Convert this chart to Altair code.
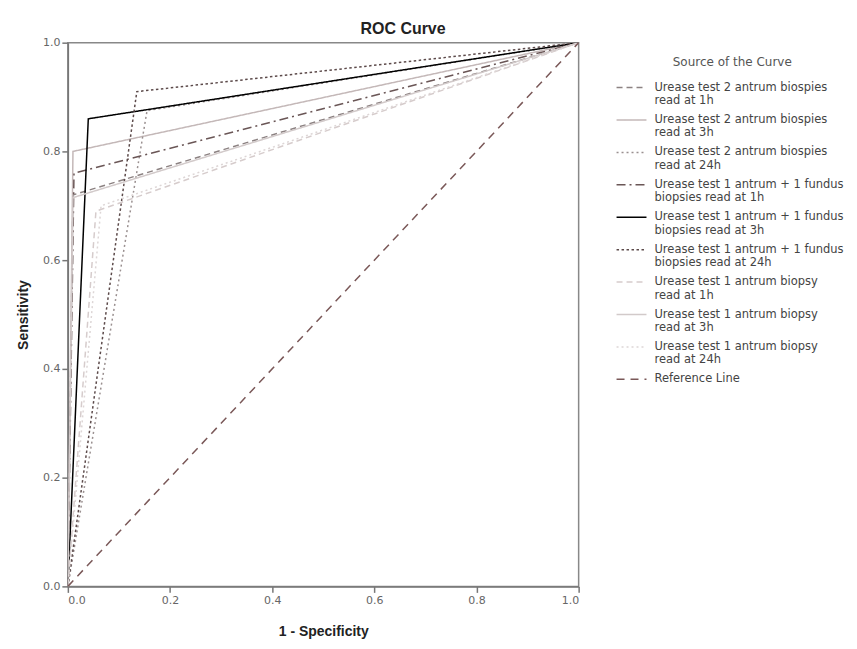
import altair as alt
import pandas as pd

series = [
    "Urease test 2 antrum biospies|read at 1h",
    "Urease test 2 antrum biospies|read at 3h",
    "Urease test 2 antrum biospies|read at 24h",
    "Urease test 1 antrum + 1 fundus|biopsies read at 1h",
    "Urease test 1 antrum + 1 fundus|biopsies read at 3h",
    "Urease test 1 antrum + 1 fundus|biopsies read at 24h",
    "Urease test 1 antrum biopsy|read at 1h",
    "Urease test 1 antrum biopsy|read at 3h",
    "Urease test 1 antrum biopsy|read at 24h",
    "Reference Line",
]
# operating point (1 - specificity, sensitivity) of each test
fpr = [0.010, 0.010, 0.155, 0.012, 0.040, 0.135, 0.055, 0.010, 0.065, None]
tpr = [0.720, 0.800, 0.875, 0.760, 0.860, 0.910, 0.690, 0.715, 0.700, None]

colors = ["#8c8282", "#c4b8b8", "#9a9090", "#6a5656", "#000000",
          "#5c4a4a", "#d6cccc", "#d2caca", "#ddd6d6", "#7a5858"]
dashes = [[6, 4], [1, 0], [2, 3], [9, 4, 2, 4], [1, 0],
          [2.5, 2.5], [6, 4], [1, 0], [2, 3], [8, 6]]
widths = [1.5, 1.5, 2, 2, 2.5, 2.2, 1.5, 1.5, 2, 1.6]

rows = []
for i, s in enumerate(series):
    if fpr[i] is None:
        pts = [(0.0, 0.0), (1.0, 1.0)]
    else:
        pts = [(0.0, 0.0), (fpr[i], tpr[i]), (1.0, 1.0)]
    for k, (x, y) in enumerate(pts):
        rows.append({"series": s, "fpr": x, "tpr": y, "ord": k, "idx": i})
df = pd.DataFrame(rows)

legend = alt.Legend(
    title="Source of the Curve",
    titleFont="DejaVu Sans", titleFontSize=12, titleFontWeight="normal",
    titleColor="#555555", titleAnchor="middle", titlePadding=8,
    labelFont="DejaVu Sans", labelFontSize=11.5, labelColor="#444444",
    labelExpr="split(datum.label, '|')", labelLimit=300,
    symbolType="M-1.5,0H1.5", symbolSize=400, symbolStrokeWidth=1.5,
    rowPadding=2.5, padding=0, labelOffset=12,
    orient="none", legendX=554, legendY=14,
)

base = alt.Chart(df).mark_line(clip=True).encode(
    x=alt.X("fpr:Q", title="1 - Specificity",
            scale=alt.Scale(domain=[0, 1], nice=False, zero=False),
            axis=alt.Axis(values=[0, 0.2, 0.4, 0.6, 0.8, 1.0], format=".1f")),
    y=alt.Y("tpr:Q", title="Sensitivity",
            scale=alt.Scale(domain=[0, 1], nice=False, zero=False),
            axis=alt.Axis(values=[0, 0.2, 0.4, 0.6, 0.8, 1.0], format=".1f")),
    color=alt.Color("series:N", scale=alt.Scale(domain=series, range=colors),
                    sort=series, legend=legend),
    strokeDash=alt.StrokeDash("series:N", scale=alt.Scale(domain=series, range=dashes),
                              sort=series, legend=legend),
    strokeWidth=alt.StrokeWidth("series:N", scale=alt.Scale(domain=series, range=widths),
                                sort=series, legend=legend),
    detail="series:N",
    order="ord:Q",
)

chart = base.properties(
    width=512, height=545,
    padding={"left": 8, "top": 12, "right": 5, "bottom": 5},
    title=alt.TitleParams("ROC Curve", font="Liberation Sans", fontSize=16,
                          fontWeight="bold", color="#222222", anchor="middle", dx=80, offset=0),
).configure_view(
    stroke="#888888", strokeWidth=1.5,
).configure_axis(
    grid=False, domainColor="#777777", domainWidth=1.5, tickColor="#777777",
    tickSize=6, tickWidth=1.5,
    labelFont="DejaVu Sans", labelFontSize=11, labelColor="#666666",
    titleFont="Liberation Sans", titleFontSize=14, titleFontWeight="bold",
    titleColor="#222222",
).configure_axisY(titlePadding=12).configure_axisX(titlePadding=19)

chart.save("out.html", embed_options={"renderer": "svg", "actions": False})
